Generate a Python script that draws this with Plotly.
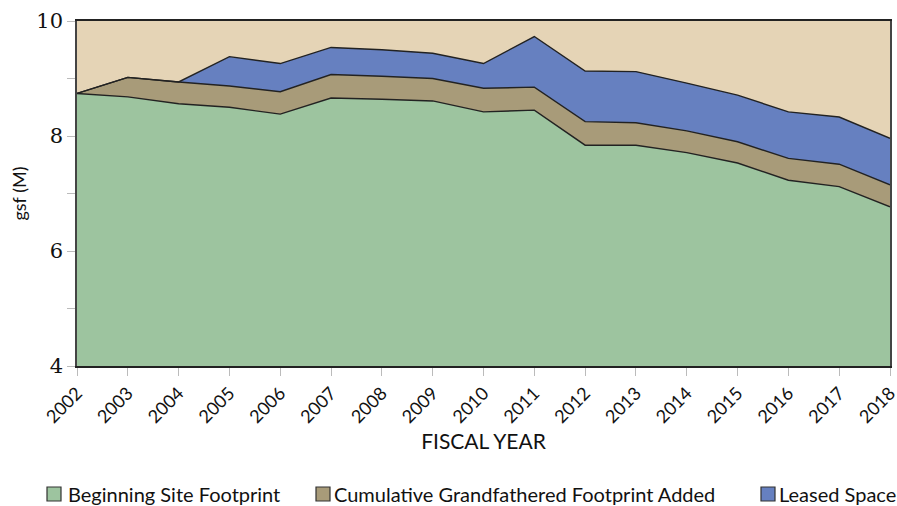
import plotly.graph_objects as go

years = list(range(2002, 2019))
site_top = [8.74, 8.68, 8.56, 8.50, 8.38, 8.66, 8.64, 8.61, 8.42, 8.45, 7.84, 7.84, 7.71, 7.53, 7.23, 7.12, 6.77]
grand_top = [8.74, 9.02, 8.94, 8.87, 8.77, 9.07, 9.04, 9.00, 8.83, 8.85, 8.25, 8.23, 8.09, 7.90, 7.61, 7.51, 7.15]
leased_top = [8.74, 9.02, 8.94, 9.38, 9.26, 9.54, 9.50, 9.44, 9.26, 9.73, 9.13, 9.12, 8.92, 8.71, 8.42, 8.33, 7.96]

site = site_top
grand = [round(g - s, 3) for g, s in zip(grand_top, site_top)]
leased = [round(l - g, 3) for l, g in zip(leased_top, grand_top)]

names = ["Beginning Site Footprint", "Cumulative Grandfathered Footprint Added", "Leased Space"]
colors = ["#9DC49F", "#A89B79", "#6680C0"]
series = [site, grand, leased]

W, H = 897, 506
ML, MR, MT, MB = 77, 7, 21, 140
PW, PH = W - ML - MR, H - MT - MB


def px_x(fx):
    return (fx - ML) / PW


def px_y(fy):
    return (H - MB - fy) / PH


fig = go.Figure()
for name, col, vals in zip(names, colors, series):
    fig.add_trace(go.Scatter(
        x=years, y=vals, name=name, stackgroup="one",
        mode="lines", line=dict(color="#222222", width=1.4),
        fillcolor=col, showlegend=False,
    ))

# manual legend (square swatches + labels) below the plot
sq_left = [47, 316, 761]
txt_left = [66, 332, 777]
sq_top, sq_bot, txt_mid = 487, 501, 494
shapes, annos = [], []
for name, col, sl, tl in zip(names, colors, sq_left, txt_left):
    shapes.append(dict(type="rect", xref="paper", yref="paper",
                       x0=px_x(sl), x1=px_x(sl + 14), y0=px_y(sq_bot), y1=px_y(sq_top),
                       fillcolor=col, line=dict(color="#333333", width=1.2)))
    annos.append(dict(xref="paper", yref="paper", x=px_x(tl), y=px_y(txt_mid),
                      xanchor="left", yanchor="middle", showarrow=False, text=name,
                      font=dict(size=20, family="Lato", color="#111111")))

fig.update_layout(
    width=W, height=H,
    margin=dict(l=ML, r=MR, t=MT, b=MB),
    paper_bgcolor="white", plot_bgcolor="#E5D4B6",
    font=dict(family="Lato", color="#111111"),
    showlegend=False,
    shapes=shapes, annotations=annos,
    xaxis=dict(
        range=[2002, 2018], automargin=False,
        tickmode="array", tickvals=years, ticktext=[str(y) for y in years],
        tickangle=-45, tickfont=dict(size=18, family="Lato"),
        ticklabeloverflow="allow",
        ticks="outside", ticklen=8, tickcolor="#BBBBBB",
        showline=True, linecolor="#222222", linewidth=1.5, mirror=True,
        showgrid=False, zeroline=False,
        title=dict(text="FISCAL YEAR", font=dict(size=21, family="Lato"), standoff=8),
    ),
    yaxis=dict(
        range=[4, 10], automargin=False, tickvals=[4, 6, 8, 10],
        tickfont=dict(size=21, family="DejaVu Serif"),
        ticks="outside", ticklen=8, tickcolor="#BBBBBB",
        minor=dict(tickvals=[5, 7, 9], ticks="outside", ticklen=8, tickcolor="#BBBBBB"),
        showline=True, linecolor="#444444", linewidth=1.5, mirror=True,
        showgrid=False, zeroline=False,
        title=dict(text="gsf (M)", font=dict(size=18, family="Lato"), standoff=5),
    ),
)

fig.write_html(
    "out.html",
    config={"displayModeBar": False},
    post_script="document.body.style.margin='0px';document.body.style.overflow='hidden';",
)
